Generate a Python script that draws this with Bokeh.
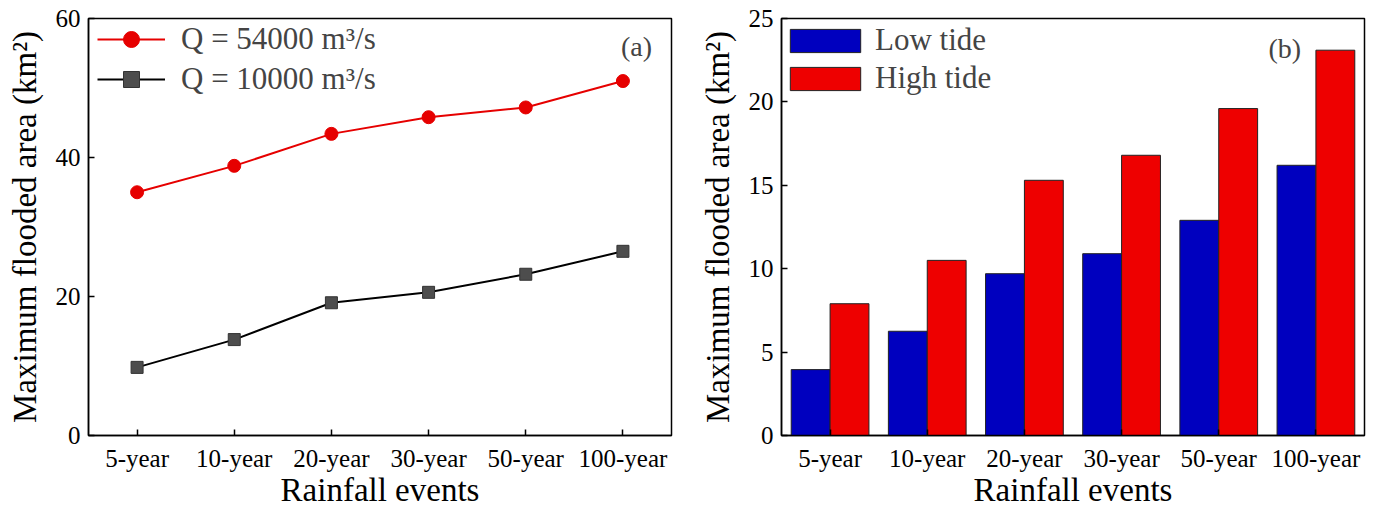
from bokeh.plotting import figure
from bokeh.models import FactorRange, Range1d, Legend, LegendItem, Label, FixedTicker, ColumnDataSource
from bokeh.transform import dodge
from bokeh.layouts import row
from bokeh.embed import file_html
from bokeh.resources import INLINE

events = ["5-year", "10-year", "20-year", "30-year", "50-year", "100-year"]
q54000 = [35.0, 38.8, 43.4, 45.8, 47.2, 51.0]
q10000 = [9.8, 13.8, 19.1, 20.6, 23.2, 26.5]
low_tide = [3.95, 6.25, 9.7, 10.9, 12.9, 16.2]
high_tide = [7.9, 10.5, 15.3, 16.8, 19.6, 23.1]
yticks_a = [0, 20, 40, 60]
yticks_b = [0, 5, 10, 15, 20, 25]

FONT = "Liberation Serif"
RED = "#e60000"
BLUE = "#0000bf"
BAR_RED = "#ee0000"


def style(p, yticks):
    p.outline_line_color = "black"
    p.outline_line_width = 1.5
    p.xgrid.visible = False
    p.ygrid.visible = False
    p.yaxis.ticker = FixedTicker(ticks=yticks)
    for ax in (p.xaxis, p.yaxis):
        ax.axis_line_color = "black"
        ax.axis_line_width = 1.5
        ax.major_tick_in = 6
        ax.major_tick_out = 0
        ax.major_tick_line_width = 1.5
        ax.minor_tick_line_color = None
        ax.major_label_text_font = FONT
        ax.major_label_text_font_size = "25px"
        ax.major_label_text_color = "black"
        ax.axis_label_text_font = FONT
        ax.axis_label_text_font_size = "33px"
        ax.axis_label_text_font_style = "normal"
        ax.axis_label_text_color = "black"
    p.xaxis.major_label_standoff = 9
    p.xaxis.axis_label_standoff = -3
    p.yaxis.major_label_standoff = 8
    p.yaxis.axis_label_standoff = 10
    p.xaxis.axis_label = "Rainfall events"
    p.yaxis.axis_label = "Maximum flooded area (km²)"


# ---------- panel (a) ----------
pa = figure(width=690, height=510, x_range=FactorRange(*events, range_padding=0, factor_padding=0),
            y_range=Range1d(0, 60), output_backend="svg", toolbar_location=None,
            min_border_left=88, min_border_right=19, min_border_top=18, min_border_bottom=74)
style(pa, yticks_a)
src_a = ColumnDataSource(dict(x=events, q54=q54000, q10=q10000))
l1 = pa.line("x", "q54", source=src_a, line_color=RED, line_width=2)
m1 = pa.scatter("x", "q54", source=src_a, marker="circle", size=13, fill_color=RED, line_color=RED)
l2 = pa.line("x", "q10", source=src_a, line_color="black", line_width=2)
m2 = pa.scatter("x", "q10", source=src_a, marker="square", size=12, fill_color="#4d4d4d", line_color="#333333")
leg_a = Legend(items=[LegendItem(label="Q = 54000 m³/s", renderers=[l1, m1]),
                      LegendItem(label="Q = 10000 m³/s", renderers=[l2, m2])],
               location=(9, 336), margin=0, padding=0, spacing=0,
               glyph_width=68, glyph_height=40, label_standoff=16,
               label_text_font=FONT, label_text_font_size="31px",
               border_line_alpha=0, background_fill_alpha=0)
pa.add_layout(leg_a)
pa.add_layout(Label(x=5.64, y=55.9, text="(a)", text_font=FONT, text_font_size="28px",
                    text_align="center", text_baseline="middle"))

# ---------- panel (b) ----------
pb = figure(width=693, height=510, x_range=FactorRange(*events, range_padding=0, factor_padding=0),
            y_range=Range1d(0, 25), output_backend="svg", toolbar_location=None,
            min_border_left=91, min_border_right=19, min_border_top=18, min_border_bottom=74)
style(pb, yticks_b)
src_b = ColumnDataSource(dict(x=events, low=low_tide, high=high_tide))
b1 = pb.vbar(x=dodge("x", -0.2, range=pb.x_range), top="low", width=0.4, source=src_b,
             fill_color=BLUE, line_color="#222222", line_width=1)
b2 = pb.vbar(x=dodge("x", 0.2, range=pb.x_range), top="high", width=0.4, source=src_b,
             fill_color=BAR_RED, line_color="#222222", line_width=1)
leg_b = Legend(items=[LegendItem(label="Low tide", renderers=[b1]),
                      LegendItem(label="High tide", renderers=[b2])],
               location=(0, 339), margin=0, padding=0, spacing=2,
               glyph_width=88, glyph_height=29, label_standoff=6,
               label_text_font=FONT, label_text_font_size="31px",
               border_line_alpha=0, background_fill_alpha=0)
pb.add_layout(leg_b)
pb.add_layout(Label(x=5.18, y=23.2, text="(b)", text_font=FONT, text_font_size="28px",
                    text_align="center", text_baseline="middle"))

layout = row(pa, pb)
open("out.html", "w").write(file_html(layout, INLINE))
